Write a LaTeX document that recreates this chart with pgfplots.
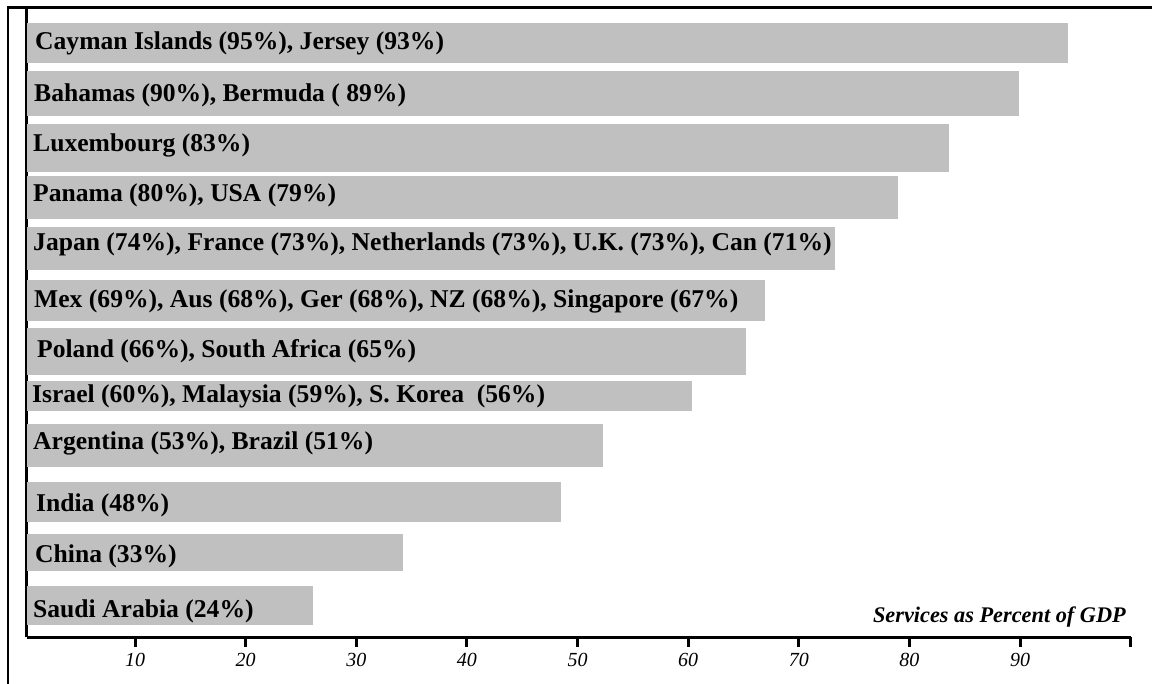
\documentclass[border=0pt]{standalone}
\usepackage{pgfplots}
\pgfplotsset{compat=1.18}
\usepackage{fontspec}
\setmainfont{Liberation Serif}
\definecolor{barc}{HTML}{C0C0C0}
\newcommand\labfont{\bfseries\fontsize{25.6bp}{25.6bp}\selectfont}
\begin{document}
\frenchspacing
\begin{tikzpicture}
\useasboundingbox (0,0) rectangle (1152bp,684bp);
\begin{axis}[
  at={(26.7bp,46.7bp)}, anchor=south west,
  scale only axis, width=1103.9bp, height=629.6bp,
  xmin=0.21, xmax=100, ymin=46.7, ymax=676.3,
  xbar,
  axis x line=bottom, axis y line=left,
  axis line style={-, line width=3.3bp, black},
  xtick={10,20,30,40,50,60,70,80,90,100},
  xticklabels={10,20,30,40,50,60,70,80,90,{}},
  ytick=\empty,
  tick align=outside,
  major tick length=9.5bp,
  tick style={line width=3bp, black},
  xticklabel style={font=\itshape\fontsize{20bp}{20bp}\selectfont, anchor=base, yshift=-19.2bp, inner sep=0pt},
]
\addplot[fill=barc, draw=none, bar width=40, bar shift=0] coordinates {(94.36,641)};
\addplot[fill=barc, draw=none, bar width=45, bar shift=0] coordinates {(89.93,590.5)};
\addplot[fill=barc, draw=none, bar width=48, bar shift=0] coordinates {(83.6,536)};
\addplot[fill=barc, draw=none, bar width=43, bar shift=0] coordinates {(78.99,486.5)};
\addplot[fill=barc, draw=none, bar width=43, bar shift=0] coordinates {(73.29,435.5)};
\addplot[fill=barc, draw=none, bar width=41, bar shift=0] coordinates {(66.96,383.5)};
\addplot[fill=barc, draw=none, bar width=47, bar shift=0] coordinates {(65.24,332.5)};
\addplot[fill=barc, draw=none, bar width=30, bar shift=0] coordinates {(60.36,288)};
\addplot[fill=barc, draw=none, bar width=43, bar shift=0] coordinates {(52.27,238.5)};
\addplot[fill=barc, draw=none, bar width=40, bar shift=0] coordinates {(48.51,182)};
\addplot[fill=barc, draw=none, bar width=37, bar shift=0] coordinates {(34.23,131.5)};
\addplot[fill=barc, draw=none, bar width=39, bar shift=0] coordinates {(26.09,78.5)};

\begin{scope}[every node/.style={anchor=base west, inner sep=0pt, font=\labfont}]
\node at (axis cs:0.96,634) {Cayman Islands (95\%), Jersey (93\%)};
\node at (axis cs:0.87,582) {Bahamas (90\%), Bermuda ( 89\%)};
\node at (axis cs:0.78,532) {Luxembourg (83\%)};
\node at (axis cs:0.78,482) {Panama (80\%), USA (79\%)};
\node at (axis cs:0.78,433) {Japan (74\%), France (73\%), Netherlands (73\%), U.K. (73\%), Can (71\%)};
\node at (axis cs:0.87,376) {Mex (69\%), Aus (68\%), Ger (68\%), NZ (68\%), Singapore (67\%)};
\node at (axis cs:1.14,326) {Poland (66\%), South Africa (65\%)};
\node at (axis cs:0.69,281) {Israel (60\%), Malaysia (59\%), S. Korea\ \ (56\%)};
\node at (axis cs:0.78,234) {Argentina (53\%), Brazil (51\%)};
\node at (axis cs:1.05,172) {India (48\%)};
\node at (axis cs:0.96,121) {China (33\%)};
\node at (axis cs:0.78,67) {Saudi Arabia (24\%)};
\end{scope}
\node[anchor=base west, inner sep=0pt, font=\bfseries\itshape\fontsize{22.3bp}{22.3bp}\selectfont] at (axis cs:76.7,62) {Services as Percent of GDP};
\end{axis}
\draw[line width=2.4bp] (7.8bp,0) -- (7.8bp,676.3bp) -- (1152bp,676.3bp);
\end{tikzpicture}
\end{document}
